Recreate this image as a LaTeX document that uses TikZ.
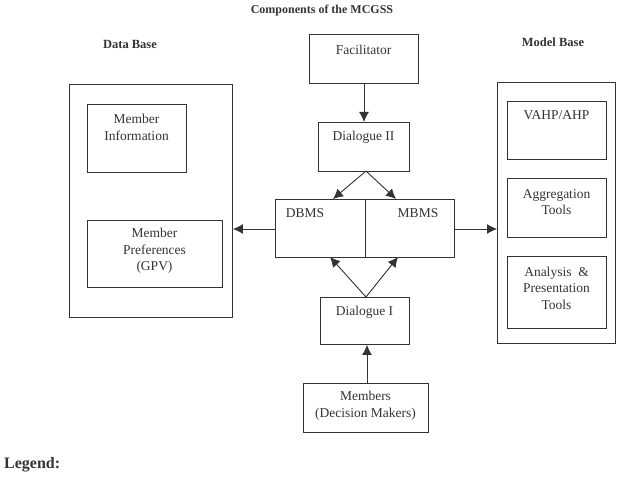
\documentclass[tikz,border=0pt]{standalone}
\usepackage{fontspec}
\setmainfont{Liberation Serif}
\usetikzlibrary{arrows.meta}
\definecolor{ink}{HTML}{333333}
\tikzset{
  box/.style={draw=ink, line width=0.9pt, inner sep=0pt, anchor=north west},
  txt/.style={text=ink, font=\fontsize{13.5}{16.5}\selectfont, align=center, inner sep=0pt},
  head/.style={text=ink, font=\bfseries\fontsize{12.5}{15}\selectfont, inner sep=0pt},
  arr/.style={draw=ink, line width=0.9pt, -{Latex[length=10pt,width=10pt]}},
}
\newcommand{\bx}[5]{\node[box, minimum width=#4, minimum height=#5] (#1) at (#2,#3) {};}
\begin{document}
\begin{tikzpicture}[x=1pt,y=-1pt]
\useasboundingbox (0,0) rectangle (634,484);
% headings
\node[head, font=\bfseries\fontsize{12}{14}\selectfont] (title) at (322,11) {Components of the MCGSS};
\node[head] (dbh) at (130,44) {Data Base};
\node[head] (mbh) at (553,42) {Model Base};
\node[head, font=\bfseries\fontsize{16}{19}\selectfont, anchor=west] (legend) at (4,465) {Legend:};
% data base
\bx{db}{69}{84}{163}{233}
\bx{mi}{87}{104}{99}{68}
\node[txt] (mit) at (136.5,127.5) {Member\\Information};
\bx{mp}{87}{220}{135}{67}
\node[txt] (mpt) at (154.5,251) {Member\\Preferences\\(GPV)};
% model base
\bx{mb}{497}{82}{118}{261}
\bx{va}{507}{101}{99}{58}
\node[txt] (vat) at (556.5,115) {VAHP/AHP};
\bx{ag}{507}{178}{99}{59}
\node[txt] (agt) at (556.5,202) {Aggregation\\Tools};
\bx{an}{507}{256}{99}{72}
\node[txt] (ant) at (556.5,288) {Analysis \ \&\\Presentation\\Tools};
% centre
\bx{fa}{309}{34}{109}{49}
\node[txt] (fat) at (363.5,50) {Facilitator};
\bx{d2}{318}{122}{91}{49}
\node[txt] (d2t) at (363.5,137) {Dialogue II};
\bx{dbms}{275}{199}{90}{58}
\bx{mbms}{365}{199}{89}{58}
\node[txt] (dbmst) at (305,213) {DBMS};
\node[txt] (mbmst) at (418,213) {MBMS};
\bx{d1}{320}{297}{89}{47}
\node[txt] (d1t) at (364.5,312) {Dialogue I};
\bx{me}{303}{383}{125}{49}
\node[txt] (met) at (365.5,405.5) {Members\\(Decision Makers)};
% connectors
\coordinate (d2b) at (366,171);
\coordinate (d1a) at (366,297);
\draw[arr] (fa.south -| 364,0) -- (d2.north -| 364,0);
\draw[arr] (d2b) -- (333,199);
\draw[arr] (d2b) -- (396,199);
\draw[arr] (d1a) -- (330,257);
\draw[arr] (d1a) -- (398,257);
\draw[arr] (me.north -| 367,0) -- (d1.south -| 367,0);
\draw[arr] (dbms.west |- 0,229) -- (db.east |- 0,229);
\draw[arr] (mbms.east |- 0,229) -- (mb.west |- 0,229);
\end{tikzpicture}
\end{document}
